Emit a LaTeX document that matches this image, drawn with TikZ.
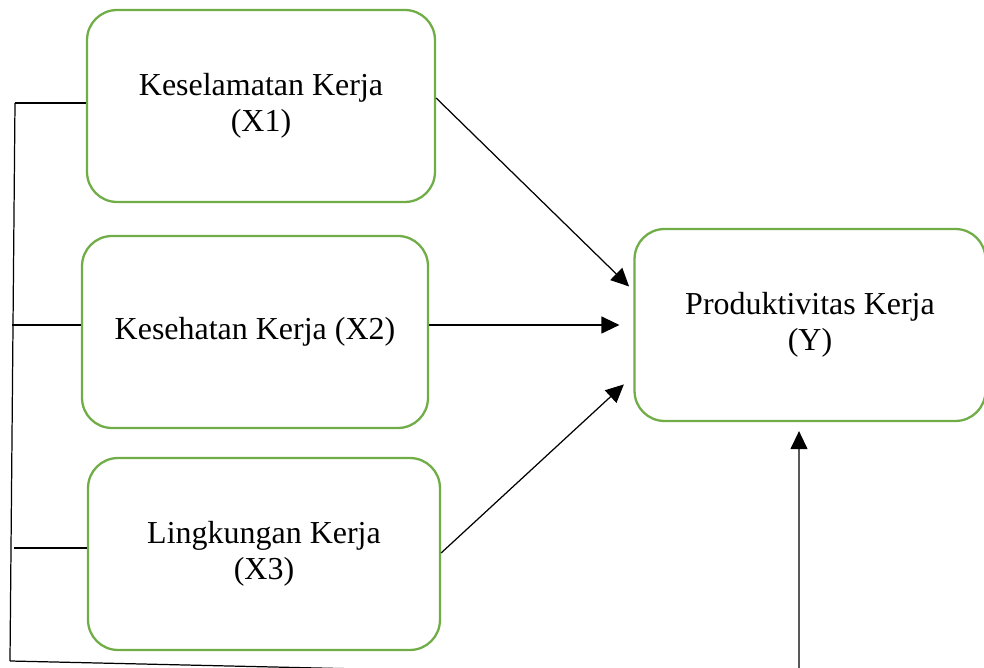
\documentclass[tikz,border=0pt]{standalone}
\usepackage{fontspec}
\setmainfont{Liberation Serif}
\usetikzlibrary{arrows.meta}
\definecolor{boxgreen}{RGB}{112,173,71}
\begin{document}
\begin{tikzpicture}[x=0.02cm,y=-0.02cm,
	var/.style={draw=boxgreen, line width=1.3pt, rounded corners=0.6cm, minimum height=3.84cm, align=center, font=\fontsize{18.2}{20.5}\selectfont},
	link/.style={-{Triangle[length=0.36cm,width=0.34cm]}, line width=0.7pt}]
	\useasboundingbox (0,0) rectangle (984,668);
	\clip (0,0) rectangle (984,668);

	\node[var, minimum width=6.96cm] (X1) at (261,106) {Keselamatan Kerja\\(X1)};
	\node[var, minimum width=6.92cm] (X2) at (255,332) {Kesehatan Kerja (X2)};
	\node[var, minimum width=7.04cm] (X3) at (264,554) {Lingkungan Kerja\\(X3)};
	\node[var, minimum width=7.02cm] (Y) at (810,325) {Produktivitas Kerja\\(Y)};

	\coordinate (top) at (15,103);
	\coordinate (mid) at (12,325);
	\coordinate (low) at (14,548);
	\coordinate (bot) at (10,661);
	\coordinate (foot) at (799,679);

	\draw[link, shorten >=0.12cm] ([yshift=0.16cm]X1.east) -- (Y.169);
	\draw[link, shorten >=0.28cm] (X2.east |- Y.west) -- (Y.west);
	\draw[link, shorten >=0.26cm] ([yshift=0.02cm]X3.east) -- (Y.196);

	\draw[line width=0.7pt] (top) -- (top -| X1.west);
	\draw[line width=0.7pt] (mid) -- (mid -| X2.west);
	\draw[line width=0.7pt] (low) -- (low -| X3.west);
	\draw[line width=0.7pt] (top) -- (bot);
	\draw[link, shorten >=0.18cm] (bot) -- (foot) -- (foot |- Y.south);
\end{tikzpicture}
\end{document}
